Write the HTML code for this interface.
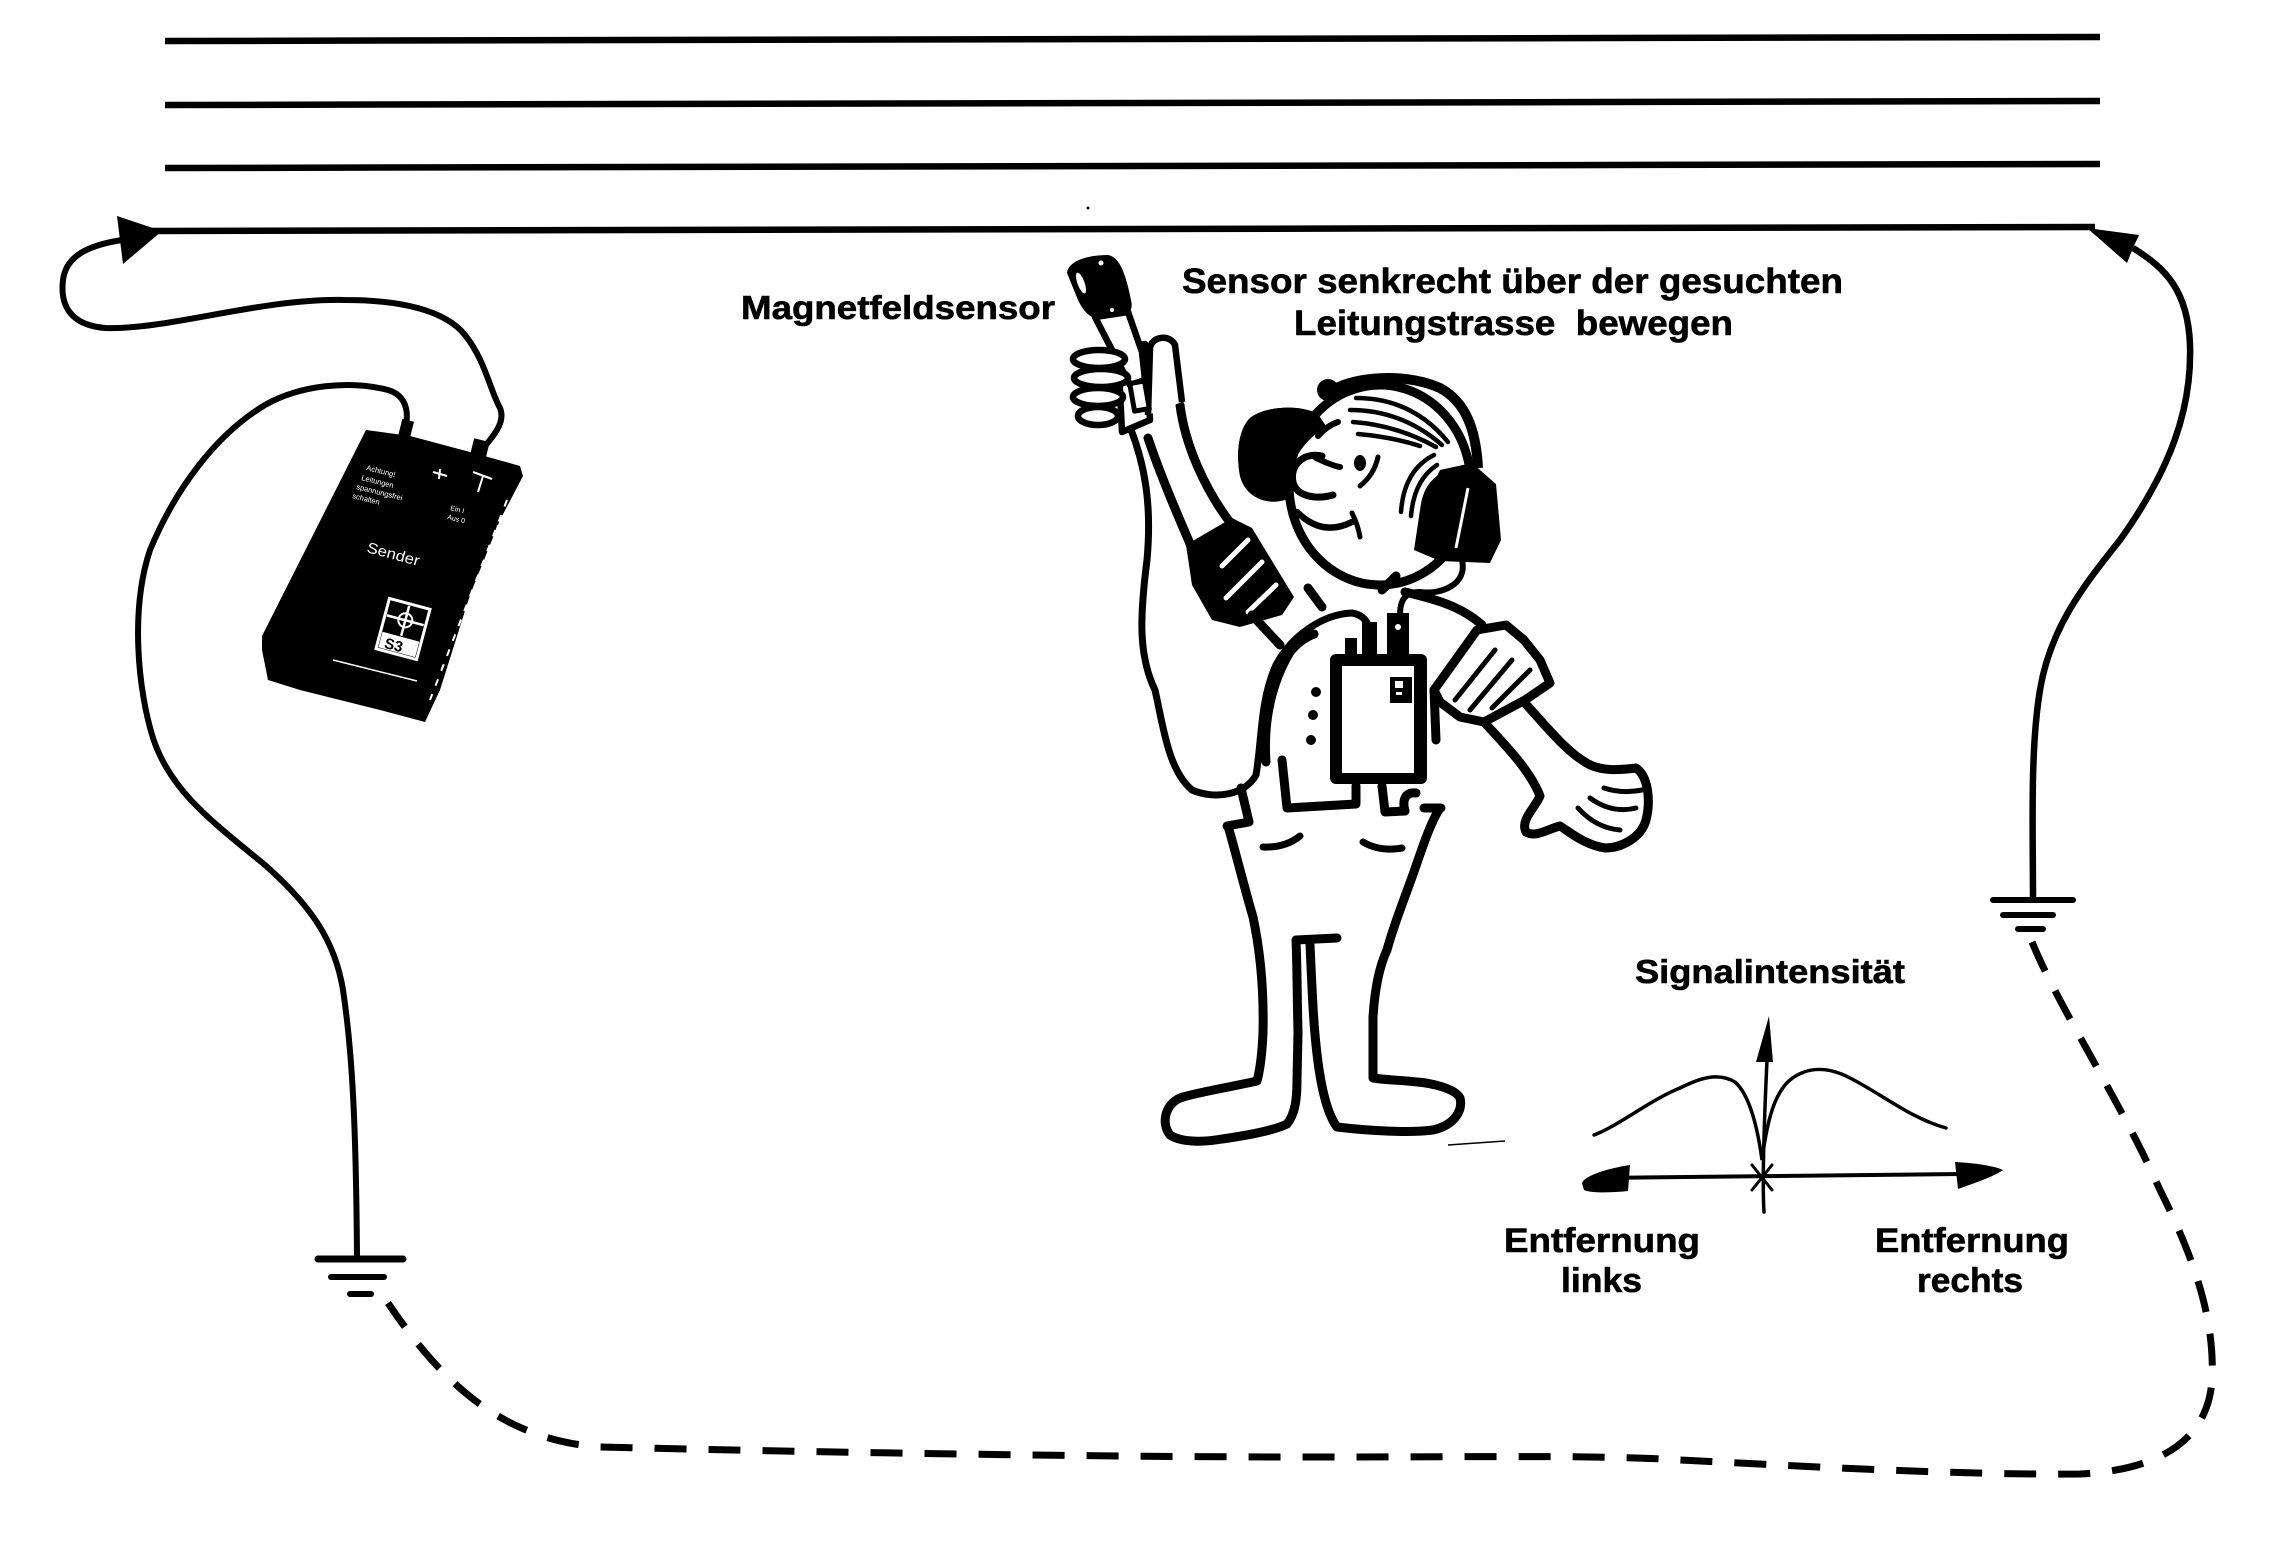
<!DOCTYPE html>
<html><head><meta charset="utf-8"><style>
html,body{margin:0;padding:0;background:#fff;}
svg{display:block;}
text{font-family:"Liberation Sans",Arial,sans-serif;}
</style></head><body>
<svg width="2272" height="1542" viewBox="0 0 2272 1542" xmlns="http://www.w3.org/2000/svg">
<rect width="2272" height="1542" fill="#fff"/>
<!-- top conductor lines -->
<g stroke="#000" stroke-width="6.5" fill="none">
<path d="M165,41 L2100,37"/>
<path d="M165,105 L2100,101"/>
<path d="M165,168 L2100,164"/>
<path d="M150,231 L2095,227"/>
</g>
<!-- arrowheads on line -->
<polygon points="117,216 162,231 123,264" fill="#000"/>
<polygon points="2087,228 2139,235 2133,248 2127,263" fill="#000"/>
<!-- left wire from arrow to sender -->
<path d="M122,240 C90,245 66,255 63,280 C60,305 70,325 105,328 C170,330 260,298 345,300 C400,300 445,310 465,335 C485,360 490,390 500,408 C505,420 497,432 485,446" stroke="#000" stroke-width="6" fill="none"/>
<!-- left wire from sender to ground -->
<path d="M405,430 C410,410 405,395 388,390 C350,380 300,385 265,405 C215,435 175,490 150,550 C130,610 138,690 153,738 C170,790 210,820 265,865 C310,905 335,940 343,990 C352,1050 356,1120 357,1257" stroke="#000" stroke-width="6" fill="none"/>
<!-- right wire -->
<path d="M2133,248 C2165,268 2188,290 2190,345 C2192,410 2170,470 2120,540 C2080,590 2050,630 2040,690 C2030,750 2033,830 2033,899" stroke="#000" stroke-width="6.5" fill="none"/>
<!-- grounds -->
<g stroke="#000" stroke-linecap="round" fill="none">
<line x1="318" y1="1259" x2="403" y2="1259" stroke-width="7"/>
<line x1="331" y1="1277" x2="384" y2="1277" stroke-width="6"/>
<line x1="350" y1="1294" x2="371" y2="1294" stroke-width="6"/>
<line x1="1993" y1="900" x2="2073" y2="900" stroke-width="6"/>
<line x1="2003" y1="915" x2="2053" y2="915" stroke-width="6"/>
<line x1="2018" y1="929" x2="2043" y2="929" stroke-width="6"/>
</g>
<!-- dashed earth return -->
<path d="M2032,942 C2060,1010 2120,1100 2160,1190 C2195,1260 2215,1320 2212,1380 C2208,1440 2160,1470 2080,1474 C1950,1475 1800,1466 1680,1460 C1600,1455 1500,1457 1300,1457 C1100,1457 800,1452 600,1447 C500,1440 440,1380 388,1303" stroke="#000" stroke-width="7" fill="none" stroke-dasharray="32 22"/>

<!-- Sender box -->
<polygon points="366,430 410,436 470,452 520,466 523,476 500,520 470,595 440,690 425,722 380,710 300,690 268,680 262,650 262,636" fill="#000"/>
<rect x="400" y="420" width="12" height="18" fill="#000" transform="rotate(14 406 429)"/>
<rect x="472" y="440" width="16" height="17" fill="#000" transform="rotate(14 480 448)"/>
<g fill="#fff" font-size="7.5">
<text x="366" y="470" transform="rotate(14 366 470)">Achtung!</text>
<text x="361" y="480" transform="rotate(14 361 480)">Leitungen</text>
<text x="356" y="489" transform="rotate(14 356 489)">spannungsfrei</text>
<text x="352" y="498" transform="rotate(14 352 498)">schalten</text>
<text x="450" y="510" font-size="7" transform="rotate(14 450 510)">Ein I</text>
<text x="447" y="519" font-size="7" transform="rotate(14 447 519)">Aus 0</text>
</g>
<text x="366" y="552" fill="#fff" font-size="15" textLength="54" lengthAdjust="spacingAndGlyphs" transform="rotate(15 366 552)">Sender</text>
<g stroke="#fff" stroke-width="2" fill="none">
<line x1="433" y1="472" x2="447" y2="476"/><line x1="440" y1="469" x2="439" y2="479"/>
<line x1="473" y1="472" x2="492" y2="479"/><line x1="483" y1="476" x2="478" y2="492"/>
<line x1="333" y1="660" x2="417" y2="681" stroke-width="1.5"/>
<path d="M507,500 L430,700" stroke-dasharray="7 9"/>
<path d="M498,525 L443,690" stroke-dasharray="5 11" stroke-width="1.5"/>
</g>
<g transform="rotate(15 403 629)">
<rect x="382" y="603" width="42" height="52" fill="#000" stroke="#fff" stroke-width="3"/>
<line x1="403" y1="605" x2="403" y2="636" stroke="#fff" stroke-width="2.5"/>
<line x1="384" y1="620" x2="422" y2="620" stroke="#fff" stroke-width="2.5"/>
<circle cx="403" cy="620" r="7" fill="none" stroke="#fff" stroke-width="2"/>
<rect x="384" y="637" width="38" height="16" fill="#fff"/>
<text x="389" y="652" font-size="15" font-weight="bold" fill="#000">S3</text>
</g>

<!-- ===== Person ===== -->
<g stroke="#000" stroke-linecap="round" stroke-linejoin="round" fill="none">
<!-- sensor cable loop -->
<path d="M1130,427 C1145,465 1152,505 1147,560 C1140,615 1138,655 1155,690 C1163,725 1168,770 1192,790 C1215,800 1245,795 1256,775 C1262,740 1260,700 1276,665 C1293,633 1325,614 1352,613 C1370,616 1372,632 1370,650" stroke-width="7"/>
<!-- raised arm edges -->
<path d="M1148,438 C1162,480 1182,525 1197,560" stroke-width="9"/>
<path d="M1180,405 C1185,445 1205,490 1232,525" stroke-width="9"/>
</g>
<!-- raised sleeve -->
<polygon points="1186,545 1232,518 1252,528 1294,597 1282,615 1240,627 1212,620 1192,585" fill="#000"/>
<g stroke="#fff" stroke-width="5" stroke-linecap="round">
<line x1="1222" y1="566" x2="1248" y2="540"/>
<line x1="1226" y1="598" x2="1262" y2="562"/>
<line x1="1248" y1="612" x2="1276" y2="585"/>
</g>
<!-- fist -->
<g stroke="#000" stroke-width="6.5" fill="#fff" stroke-linejoin="round">
<path d="M1118,350 L1145,344 L1150,420 L1122,432 Z"/>
<polygon points="1095,317 1128,312 1142,352 1145,380 1130,385 1112,350"/>
<ellipse cx="1099" cy="359" rx="26" ry="9"/>
<ellipse cx="1101" cy="378" rx="27" ry="9"/>
<ellipse cx="1098" cy="397" rx="25" ry="9"/>
<ellipse cx="1098" cy="416" rx="20" ry="9"/>
<path d="M1148,415 L1150,348 C1152,336 1170,334 1175,345 L1182,402"/>
<rect x="1132" y="382" width="15" height="28" stroke-width="5" transform="rotate(-10 1140 396)"/>
</g>
<!-- sensor head -->
<path d="M1067,273 C1068,262 1085,255 1108,255 C1120,257 1126,275 1131,300 C1134,312 1128,316 1107,318 C1095,322 1085,315 1078,300 Z" fill="#000"/>
<ellipse cx="1081" cy="283" rx="3.5" ry="11" fill="#fff" transform="rotate(-20 1081 283)"/>
<circle cx="1101" cy="263" r="2.5" fill="#fff"/>
<circle cx="1112" cy="310" r="2" fill="#fff"/>

<!-- left earcup (behind) -->
<path d="M1250,418 C1265,406 1300,404 1318,414 L1330,428 C1315,440 1300,450 1295,465 C1290,480 1293,495 1285,500 C1265,506 1245,496 1240,476 C1236,455 1238,430 1250,418 Z" fill="#000"/>
<!-- head -->
<ellipse cx="1380" cy="485" rx="91" ry="100" fill="#fff" stroke="#000" stroke-width="9"/>
<path d="M1250,418 C1265,406 1300,404 1318,414 L1326,426 C1312,436 1302,446 1296,458 C1292,470 1290,485 1286,498 C1265,506 1245,496 1240,476 C1236,455 1238,430 1250,418 Z" fill="#000"/>
<!-- nose -->
<path d="M1322,456 C1302,452 1290,466 1293,482 C1296,496 1315,500 1333,495" fill="#fff" stroke="#000" stroke-width="7" stroke-linecap="round"/>
<path d="M1316,458 C1325,462 1333,466 1340,467" stroke="#000" stroke-width="6" fill="none" stroke-linecap="round"/>
<path d="M1318,436 C1325,428 1332,424 1338,422" stroke="#000" stroke-width="6" fill="none" stroke-linecap="round"/>
<!-- headband -->
<path d="M1322,398 C1340,378 1400,370 1440,388 C1466,402 1476,430 1478,468" stroke="#000" stroke-width="10" fill="none"/>
<circle cx="1328" cy="390" r="11" fill="#000"/>
<!-- right earcup -->
<polygon points="1440,470 1472,463 1496,484 1501,540 1490,563 1440,561 1414,550 1420,510" fill="#000"/>
<line x1="1468" y1="488" x2="1456" y2="548" stroke="#fff" stroke-width="3"/>
<!-- hair -->
<g stroke="#000" stroke-width="4.5" fill="none" stroke-linecap="round">
<path d="M1356,398 Q1412,398 1448,442"/>
<path d="M1350,410 Q1402,410 1442,445"/>
<path d="M1353,422 Q1396,425 1436,447"/>
<path d="M1358,434 Q1392,437 1420,446"/>
<path d="M1434,455 Q1404,470 1401,512"/>
<path d="M1437,465 Q1414,480 1411,516"/>
<path d="M1438,478 Q1422,490 1422,518"/>
</g>
<!-- eye, mouth -->
<ellipse cx="1360" cy="463" rx="6" ry="8" fill="#000"/>
<path d="M1378,457 Q1374,475 1360,486" stroke="#000" stroke-width="5" fill="none" stroke-linecap="round"/>
<path d="M1297,512 Q1322,537 1352,522" stroke="#000" stroke-width="6.5" fill="none" stroke-linecap="round"/>
<path d="M1352,513 Q1358,525 1360,537" stroke="#000" stroke-width="5" fill="none" stroke-linecap="round"/>

<g stroke="#000" stroke-linecap="round" stroke-linejoin="round" fill="none" stroke-width="9">
<!-- neck / shoulders -->
<path d="M1308,588 L1322,607"/>
<path d="M1382,590 L1396,576"/>
<path d="M1252,615 L1280,645"/>
<path d="M1405,592 C1430,598 1460,605 1482,625"/>
<path d="M1434,690 L1436,740"/>
<!-- torso left edge -->
<path d="M1266,762 C1263,720 1272,682 1290,652 C1298,642 1306,637 1314,634"/>
<!-- headphone cable -->
<path d="M1462,560 C1468,585 1440,595 1420,592 C1405,592 1400,600 1400,615" stroke-width="6"/>
<!-- waist -->
<path d="M1241,788 L1249,822 L1227,826"/>
<path d="M1282,760 L1287,808 L1356,804 L1356,786"/>
<path d="M1382,786 L1385,812 L1405,811"/>
<path d="M1405,811 C1402,800 1405,792 1416,793"/>
<path d="M1424,808 L1441,808"/>
<!-- legs -->
<path d="M1228,826 C1235,850 1245,890 1253,917 C1260,950 1264,990 1263,1033 C1262,1055 1260,1070 1257,1081 C1230,1087 1200,1092 1183,1097 C1166,1102 1160,1122 1170,1135 C1182,1143 1205,1142 1222,1139 C1250,1135 1275,1130 1287,1124 C1295,1114 1297,1100 1297,1080 L1298,1033 C1297,990 1297,960 1296,940 L1337,938"/>
<path d="M1310,945 C1312,985 1313,1025 1318,1062 C1322,1092 1328,1115 1337,1127 C1370,1131 1410,1133 1433,1130 C1455,1125 1463,1110 1460,1098 C1455,1088 1430,1083 1417,1082 C1400,1080 1385,1080 1373,1078 L1373,1017 C1375,985 1380,965 1387,950 C1395,920 1407,893 1418,860 C1425,840 1432,820 1440,808"/>
<path d="M1263,847 Q1285,848 1300,836" stroke-width="7"/>
<path d="M1363,842 Q1380,852 1402,848" stroke-width="7"/>
<!-- right forearm and hand -->
<path d="M1524,702 C1545,725 1565,750 1585,762 C1600,772 1620,770 1636,768 C1648,776 1651,800 1646,820 C1641,838 1621,848 1605,848 C1585,845 1571,833 1560,826 C1548,829 1535,838 1526,832 C1520,820 1535,808 1540,796 C1530,770 1505,745 1484,722"/>
</g>
<g stroke="#000" stroke-width="5" fill="none" stroke-linecap="round">
<path d="M1578,808 Q1596,828 1620,830"/>
<path d="M1590,798 Q1612,814 1636,808"/>
<path d="M1604,788 Q1622,794 1642,790"/>
</g>
<!-- right sleeve -->
<polygon points="1434,690 1477,630 1506,625 1524,640 1540,660 1550,683 1525,700 1484,722 1460,717 1440,702" fill="#fff" stroke="#000" stroke-width="9" stroke-linejoin="round"/>
<g stroke="#000" stroke-width="5" stroke-linecap="round">
<line x1="1455" y1="700" x2="1495" y2="650"/>
<line x1="1470" y1="710" x2="1512" y2="660"/>
<line x1="1492" y1="708" x2="1530" y2="670"/>
</g>
<!-- chest device -->
<rect x="1345" y="638" width="12" height="18" fill="#000"/>
<rect x="1362" y="622" width="15" height="34" fill="#000"/>
<rect x="1387" y="613" width="22" height="43" fill="#000"/>
<circle cx="1398" cy="627" r="3" fill="#fff"/>
<rect x="1330" y="654" width="97" height="130" rx="6" fill="#000"/>
<rect x="1342" y="666" width="72" height="107" fill="#fff"/>
<rect x="1390" y="677" width="22" height="26" fill="#000"/>
<rect x="1395" y="681" width="8" height="7" fill="#fff"/>
<rect x="1396" y="692" width="6" height="3" fill="#fff"/>
<circle cx="1316" cy="692" r="5" fill="#000"/>
<circle cx="1313" cy="715" r="5" fill="#000"/>
<circle cx="1311" cy="740" r="5" fill="#000"/>

<!-- stray marks -->
<circle cx="1088" cy="208" r="1.5" fill="#000"/>
<line x1="1448" y1="1145" x2="1505" y2="1141" stroke="#000" stroke-width="1.5"/>

<!-- graph -->
<g stroke="#000" fill="none" stroke-linecap="round">
<path d="M1594,1135 C1620,1125 1650,1100 1680,1088 C1700,1078 1718,1072 1735,1082 C1750,1095 1758,1130 1762,1160 C1766,1130 1772,1095 1790,1080 C1805,1068 1825,1065 1850,1078 C1880,1093 1910,1118 1946,1128" stroke-width="3.5"/>
<line x1="1600" y1="1178" x2="1962" y2="1174" stroke-width="4"/>
<path d="M1764,1212 C1762,1180 1765,1100 1768,1040" stroke-width="3.5"/>
<line x1="1752" y1="1165" x2="1772" y2="1190" stroke-width="3"/>
<line x1="1772" y1="1165" x2="1752" y2="1190" stroke-width="3"/>
</g>
<path d="M1769,1016 L1773,1062 L1756,1062 Z" fill="#000"/>
<path d="M1582,1183 C1585,1175 1610,1168 1630,1165 L1628,1191 C1610,1193 1590,1193 1584,1190 Z" fill="#000"/>
<path d="M1955,1162 C1975,1163 1995,1166 2003,1170 C1995,1176 1975,1183 1958,1189 Z" fill="#000"/>

<!-- labels -->
<g font-weight="bold" fill="#000" stroke="#000" stroke-width="0.6">
<text x="741" y="319" font-size="33" textLength="314" lengthAdjust="spacingAndGlyphs">Magnetfeldsensor</text>
<text x="1182" y="293" font-size="35" textLength="661" lengthAdjust="spacingAndGlyphs">Sensor senkrecht über der gesuchten</text>
<text x="1294" y="335" font-size="35" textLength="439" lengthAdjust="spacingAndGlyphs" style="white-space:pre">Leitungstrasse  bewegen</text>
<text x="1635" y="983" font-size="33" textLength="270" lengthAdjust="spacingAndGlyphs">Signalintensität</text>
<text x="1504" y="1252" font-size="34" textLength="196" lengthAdjust="spacingAndGlyphs">Entfernung</text>
<text x="1561" y="1292" font-size="34" textLength="81" lengthAdjust="spacingAndGlyphs">links</text>
<text x="1875" y="1252" font-size="34" textLength="194" lengthAdjust="spacingAndGlyphs">Entfernung</text>
<text x="1917" y="1292" font-size="34" textLength="106" lengthAdjust="spacingAndGlyphs">rechts</text>
</g>
</svg>
</body></html>
